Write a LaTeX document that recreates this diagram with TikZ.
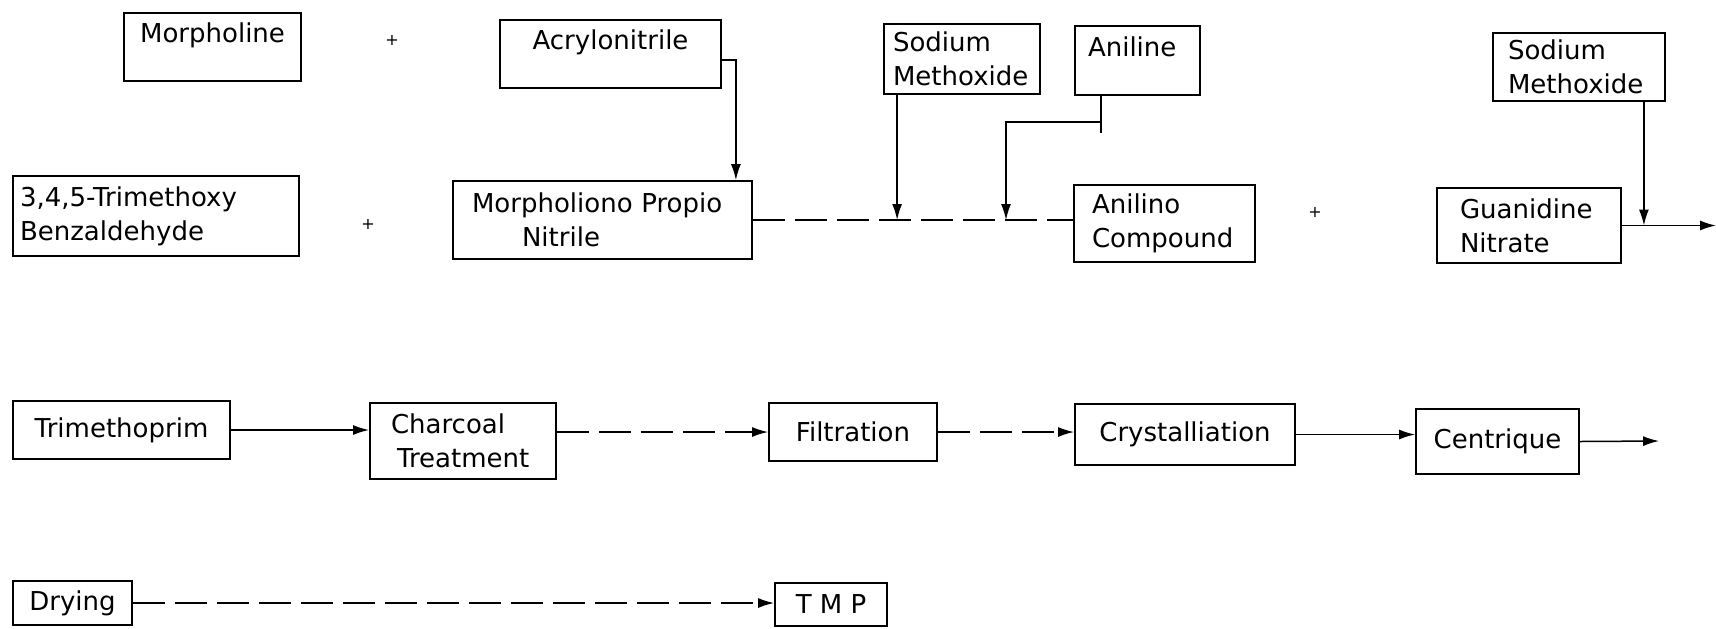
\documentclass[tikz,border=0pt]{standalone}
\usepackage{fontspec}
\setmainfont{DejaVu Sans}
\usetikzlibrary{arrows.meta,calc}
\begin{document}
\begin{tikzpicture}[x=0.5pt,y=-0.5pt,
  bx/.style={draw, line width=0.9pt, inner ysep=0pt, font=\fontsize{13}{17}\selectfont},
  lb/.style={bx, align=left},
  cb/.style={bx, align=center, inner xsep=0pt},
  conn/.style={line width=0.75pt},
  arr/.style={conn, -{Latex[length=8pt,width=5pt]}},
  faint/.style={dash pattern=on 16pt off 5pt},
  plus/.style={font=\fontsize{8}{8}\selectfont, inner sep=0pt}]
\useasboundingbox (0,0) rectangle (1716,628);
\fill[white] (0,0) rectangle (1716,628);
% top row
\node[cb, minimum width=88.5pt, minimum height=34pt] (mor) at (212.5,47) {Morpholine\\[-8pt]\strut};
\node[cb, minimum width=110.5pt, minimum height=34pt] (acr) at (610.5,54) {Acrylonitrile\\[-8pt]\strut};
\node[lb, inner xsep=4.5pt, text width=69pt, minimum height=35pt] (sm1) at (962,59) {Sodium\\Methoxide};
\node[lb, inner xsep=6.5pt, text width=49.5pt, minimum height=34.5pt] (ani) at (1137.5,60.5) {Aniline\\[-8pt]\strut};
\node[lb, inner xsep=7.5pt, text width=71pt, minimum height=34pt] (sm2) at (1579,67) {Sodium\\Methoxide};
% second row
\node[lb, inner xsep=3.5pt, text width=136pt, minimum height=40pt] (tmb) at (156,216) {3,4,5-Trimethoxy\\Benzaldehyde};
\node[lb, inner xsep=9.5pt, text width=130.5pt, minimum height=39pt] (mpn) at (602.5,220) {Morpholiono~Propio\\\hspace*{25pt}Nitrile};
\node[lb, inner xsep=9pt, text width=72.5pt, minimum height=38.5pt] (anc) at (1164.5,223.5) {Anilino\\Compound};
\node[lb, inner xsep=11.5pt, text width=69pt, minimum height=37.5pt] (gn) at (1529,225.5) {Guanidine\\Nitrate};
% third row
\node[cb, minimum width=108.5pt, minimum height=29pt] (tri) at (121.5,430) {Trimethoprim};
\node[lb, inner xsep=10.5pt, text width=72pt, minimum height=38pt] (cha) at (463,441) {Charcoal\\\hspace*{3pt}Treatment};
\node[cb, minimum width=84pt, minimum height=29pt] (fil) at (853,432) {Filtration};
\node[cb, minimum width=110pt, minimum height=30.5pt] (cry) at (1185,434.5) {Crystalliation};
\node[cb, minimum width=81.5pt, minimum height=32.5pt] (cen) at (1497.5,441.5) {Centrique};
% bottom row
\node[cb, minimum width=59.5pt, minimum height=22pt] (dry) at (72.5,603) {Drying};
\node[cb, minimum width=56pt, minimum height=21.5pt] (tmp) at (831,604.5) {T M P};
% plus signs
\node[plus] (p1) at (392,40) {+};
\node[plus] (p2) at (368,224) {+};
\node[plus] (p3) at (1315,212) {+};
% connectors
\draw[arr] ($(acr.east)+(0,6)$) -| ($(mpn.north east)+(-17,0)$);
\draw[conn, faint] (mpn.east) -- (mpn.east -| anc.west);
\coordinate (s1) at ($(sm1.south west)+(14,0)$);
\draw[arr] (s1) -- (s1 |- mpn.east);
\coordinate (a1) at ($(ani.south west)+(27,0)$);
\coordinate (a2) at (1006,122);
\draw[conn] (a1) -- ($(a1)+(0,37)$);
\draw[arr] (a1 |- a2) -- (a2) -- (a2 |- mpn.east);
\coordinate (s2) at ($(sm2.south east)+(-22,0)$);
\draw[arr] (s2) -- (s2 |- gn.east);
\coordinate (e1) at (1716,228);
\draw[arr] (gn.east) -- (gn.east -| e1);
\draw[arr] (tri.east) -- (tri.east -| cha.west);
\draw[arr, faint] (fil.west -| cha.east) -- (fil.west);
\draw[arr, faint] (fil.east) -- (fil.east -| cry.west);
\draw[arr] (cry.east) -- (cry.east -| cen.west);
\coordinate (o2) at (1659,441);
\draw[arr] (cen.east) -- (o2);
\draw[arr, faint] (dry.east) -- (dry.east -| tmp.west);
\end{tikzpicture}
\end{document}
